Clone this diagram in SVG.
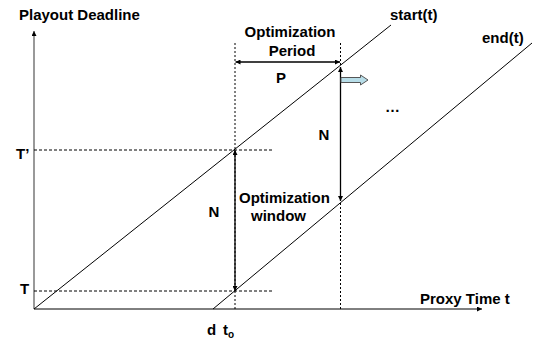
<svg xmlns="http://www.w3.org/2000/svg" width="536" height="339" viewBox="0 0 536 339">
<defs>
<marker id="ah" viewBox="0 0 10 10" refX="10" refY="5" markerWidth="5" markerHeight="5" orient="auto-start-reverse" markerUnits="userSpaceOnUse">
<path d="M0,0 L10,5 L0,10 z" fill="#000"/>
</marker>
<marker id="ahg" viewBox="0 0 10 10" refX="10" refY="5" markerWidth="5" markerHeight="5" orient="auto" markerUnits="userSpaceOnUse">
<path d="M0,0 L10,5 L0,10 z" fill="#000"/>
</marker>
</defs>
<style>
text{font-family:"Liberation Sans",Arial,sans-serif;font-weight:bold;font-size:15px;fill:#000}
.dash{stroke:#000;stroke-width:1;stroke-dasharray:3,2;fill:none}
.dot{stroke:#000;stroke-width:1;stroke-dasharray:2,2;fill:none}
.ln{stroke:#000;stroke-width:1;fill:none}
.arr{stroke:#000;stroke-width:1.3;fill:none;marker-start:url(#ah);marker-end:url(#ah)}
</style>
<rect width="536" height="339" fill="#fff"/>
<g id="axes">
<line x1="34" y1="309" x2="34" y2="31" stroke="#999" stroke-width="2" marker-end="url(#ahg)"/>
<line x1="34" y1="309" x2="482" y2="309" class="ln" marker-end="url(#ahg)"/>
<text x="19" y="20">Playout Deadline</text>
<text x="420" y="304">Proxy Time t</text>
</g>
<g id="guides">
<line x1="34" y1="150" x2="274" y2="150" class="dash"/>
<line x1="34" y1="291" x2="274" y2="291" class="dash"/>
<line x1="235" y1="43" x2="235" y2="309" class="dot"/>
<line x1="340.5" y1="43" x2="340.5" y2="309" class="dot"/>
<text x="16" y="159">T’</text>
<text x="20" y="294">T</text>
<text x="207" y="335">d</text>
<text x="223" y="335">t<tspan font-size="10" dy="3">o</tspan></text>
</g>
<g id="start">
<line x1="34" y1="309" x2="391" y2="25" class="ln"/>
<text x="390" y="20">start(t)</text>
</g>
<g id="end">
<line x1="213" y1="309" x2="532" y2="43" class="ln"/>
<text x="482" y="43">end(t)</text>
</g>
<g id="connectors">
<line x1="235.5" y1="62" x2="340" y2="62" class="arr"/>
<line x1="235" y1="150" x2="235" y2="291" class="arr"/>
<line x1="340.5" y1="67" x2="340.5" y2="201" class="arr"/>
<path d="M341,77.5 L360.5,77.5 L360.5,75 L368,80 L360.5,85 L360.5,82.5 L341,82.5 z" fill="#b7dde8" stroke="#555" stroke-width="1"/>
</g>
<g id="labels">
<text x="290" y="37" text-anchor="middle">Optimization</text>
<text x="292" y="56" text-anchor="middle">Period</text>
<text x="281" y="83" text-anchor="middle">P</text>
<text x="214" y="217" text-anchor="middle">N</text>
<text x="324" y="140" text-anchor="middle">N</text>
<text x="239" y="203">Optimization</text>
<text x="251" y="221">window</text>
<text x="385" y="112">…</text>
</g>
</svg>
